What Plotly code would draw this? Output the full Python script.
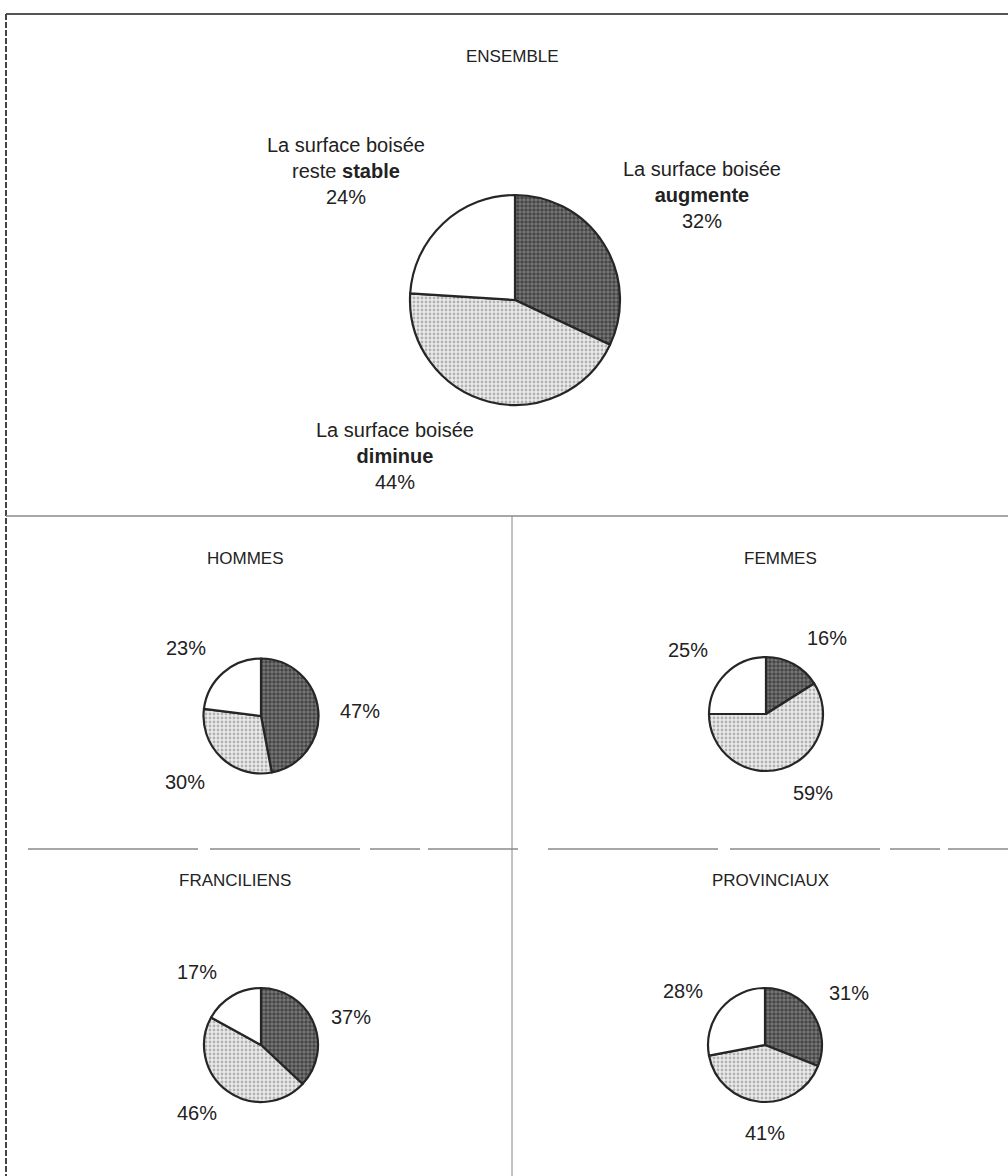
import plotly.graph_objects as go

# Survey answers: how the wooded area is perceived to change
categories = ["augmente", "diminue", "stable"]

groups = ["ENSEMBLE", "HOMMES", "FEMMES", "FRANCILIENS", "PROVINCIAUX"]
augmente = [32, 47, 16, 37, 31]
diminue = [44, 30, 59, 46, 41]
stable = [24, 23, 25, 17, 28]

W, H = 1008, 1176


def px(x):
    return x / W


def py(y):
    return 1 - y / H


# pie geometry in page pixels: centre x, centre y, radius
pie_geom = {
    "ENSEMBLE": (515, 300, 105),
    "HOMMES": (261, 716, 57.5),
    "FEMMES": (766, 714, 57),
    "FRANCILIENS": (261, 1045, 57),
    "PROVINCIAUX": (765, 1045, 57),
}

# group title positions
title_pos = {
    "ENSEMBLE": (512, 56),
    "HOMMES": (245, 558),
    "FEMMES": (780, 558),
    "FRANCILIENS": (235, 880),
    "PROVINCIAUX": (770, 880),
}

# percentage label positions for augmente / diminue / stable
label_pos = {
    "HOMMES": [(360, 711), (185, 782), (186, 648)],
    "FEMMES": [(827, 638), (813, 793), (688, 650)],
    "FRANCILIENS": [(351, 1017), (197, 1113), (197, 972)],
    "PROVINCIAUX": [(849, 993), (765, 1133), (683, 991)],
}

slice_bg = ["#7a7a7a", "#ebebeb", "white"]
dot_fg = ["#121212", "#777777", "white"]
dot_shape = [".", ".", ""]
dot_size = [4, 4, 4]
dot_solidity = [0.6, 0.4, 0.1]

TEXT = "#222222"
FONT = "Liberation Sans, Arial, sans-serif"

fig = go.Figure()

for i, g in enumerate(groups):
    cx, cy, r = pie_geom[g]
    fig.add_trace(go.Pie(
        labels=categories,
        values=[augmente[i], diminue[i], stable[i]],
        sort=False,
        direction="clockwise",
        rotation=0,
        textinfo="none",
        hoverinfo="label+percent",
        showlegend=False,
        domain=dict(x=[px(cx - r), px(cx + r)], y=[py(cy + r), py(cy - r)]),
        marker=dict(
            colors=slice_bg,
            line=dict(color="#262626", width=2.2),
            pattern=dict(shape=dot_shape, fgcolor=dot_fg, size=dot_size,
                         solidity=dot_solidity, fillmode="overlay"),
        ),
    ))

annotations = []


def add_text(x, y, text, size=18):
    annotations.append(dict(
        x=px(x), y=py(y), xref="paper", yref="paper", text=text,
        showarrow=False, xanchor="center", yanchor="middle",
        font=dict(family=FONT, size=size, color=TEXT), align="center",
    ))


for g in groups:
    tx, ty = title_pos[g]
    add_text(tx, ty, g, 17)

# large pie: descriptive labels
add_text(346, 171, "La surface boisée<br>reste <b>stable</b><br>" + f"{stable[0]}%", 20)
add_text(702, 195, "La surface boisée<br><b>augmente</b><br>" + f"{augmente[0]}%", 20)
add_text(395, 456, "La surface boisée<br><b>diminue</b><br>" + f"{diminue[0]}%", 20)

for i, g in enumerate(groups[1:], start=1):
    vals = [augmente[i], diminue[i], stable[i]]
    for (lx, ly), v in zip(label_pos[g], vals):
        add_text(lx, ly, f"{v}%", 20)

shapes = [
    # outer frame: top and left edges
    dict(type="line", xref="paper", yref="paper", x0=px(6), x1=1, y0=py(14), y1=py(14),
         line=dict(color="#555555", width=2)),
    dict(type="line", xref="paper", yref="paper", x0=px(6), x1=px(6), y0=py(14), y1=0,
         line=dict(color="#444444", width=2, dash="6px,2px")),
    # separator below the overall pie
    dict(type="line", xref="paper", yref="paper", x0=px(6), x1=1, y0=py(516), y1=py(516),
         line=dict(color="#8a8a8a", width=1.5)),
    # vertical split between the two columns
    dict(type="line", xref="paper", yref="paper", x0=px(512), x1=px(512), y0=py(516), y1=0,
         line=dict(color="#888888", width=1)),
    # broken rule between the two lower rows
    dict(type="line", xref="paper", yref="paper", x0=px(28), x1=1, y0=py(849), y1=py(849),
         line=dict(color="#8a8a8a", width=1.5, dash="170px,12px,150px,10px,50px,8px,90px,30px")),
]

fig.update_layout(
    width=W, height=H,
    margin=dict(l=0, r=0, t=0, b=0),
    paper_bgcolor="white", plot_bgcolor="white",
    annotations=annotations, shapes=shapes,
)

fig.write_html("out.html")
